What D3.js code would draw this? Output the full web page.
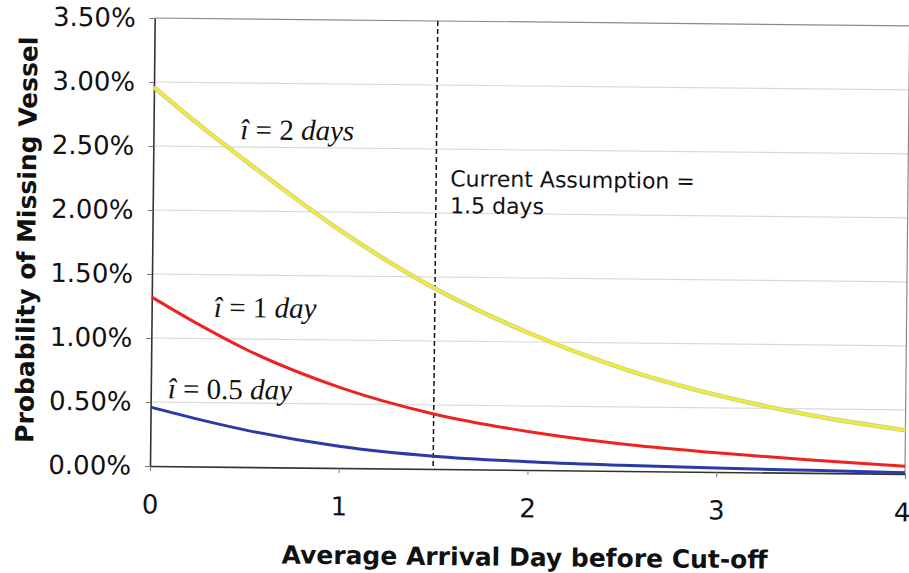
<!DOCTYPE html>
<html>
<head>
<meta charset="utf-8">
<script src="https://cdn.jsdelivr.net/npm/d3@7"></script>
<style>
  body { margin: 0; background: #fff; }
  svg { display: block; }
  .tick text { font-family: "DejaVu Sans", Verdana, sans-serif; font-size: 26px; fill: #111; }
</style>
</head>
<body>
<div id="chart"></div>
<script>
// arrival day before cut-off (x)
const days = [0, 0.25, 0.5, 1, 1.5, 2, 2.5, 3, 3.5, 4];
// probability of missing vessel, in percent
const pctTwoDays = [2.96, 2.66, 2.38, 1.85, 1.41, 1.07, 0.80, 0.60, 0.45, 0.34];
const pctOneDay = [1.32, 1.11, 0.92, 0.63, 0.43, 0.30, 0.21, 0.15, 0.10, 0.06];
const pctHalfDay = [0.46, 0.37, 0.29, 0.17, 0.10, 0.065, 0.045, 0.03, 0.02, 0.01];
const xTicks = [0, 1, 2, 3, 4];
const yTicks = [0, 0.5, 1, 1.5, 2, 2.5, 3, 3.5];
const currentAssumption = 1.5;

const width = 909, height = 573;
const margin = {top: 18, right: 4, bottom: 107, left: 150};

const svg = d3.select('#chart')
  .append('svg')
  .attr('width', width)
  .attr('height', height);

// the scan is tilted a little clockwise
const g = svg.append('g')
  .attr('transform', `rotate(0.6, ${margin.left}, ${height - margin.bottom})`);

const x = d3.scaleLinear().domain([0, 4]).range([margin.left, width - margin.right]);
const y = d3.scaleLinear().domain([0, 3.5]).range([height - margin.bottom, margin.top]);

// gridlines
g.append('g')
  .selectAll('line')
  .data(yTicks.filter(d => d > 0 && d < 3.5))
  .join('line')
  .attr('x1', x(0)).attr('x2', x(4))
  .attr('y1', d => y(d)).attr('y2', d => y(d))
  .attr('stroke', '#d9d9d9')
  .attr('stroke-width', 1.2);

// top and right border
g.append('path')
  .attr('d', `M${x(0)},${y(3.5)}H${x(4)}V${y(0)}`)
  .attr('fill', 'none')
  .attr('stroke', '#8a8a8a')
  .attr('stroke-width', 1.2);

// axes
const yAxis = g.append('g')
  .attr('transform', `translate(${x(0)},0)`)
  .call(d3.axisLeft(y).tickValues(yTicks).tickFormat(d => d.toFixed(2) + '%').tickSizeInner(5).tickSizeOuter(0).tickPadding(14));
const xAxis = g.append('g')
  .attr('transform', `translate(0,${y(0)})`)
  .call(d3.axisBottom(x).tickValues(xTicks).tickFormat(d3.format('d')).tickSizeInner(5).tickSizeOuter(0).tickPadding(24));
[yAxis, xAxis].forEach(a => {
  a.select('.domain').attr('stroke', '#333').attr('stroke-width', 1.6);
  a.selectAll('.tick line').attr('stroke', '#777');
});
// last label sits right at the picture edge
xAxis.selectAll('.tick text').filter(d => d === 4).attr('dx', -3);

// current assumption marker
g.append('line')
  .attr('x1', x(currentAssumption)).attr('x2', x(currentAssumption))
  .attr('y1', y(3.5)).attr('y2', y(0))
  .attr('stroke', '#111')
  .attr('stroke-width', 1.5)
  .attr('stroke-dasharray', '5,3');

// curves
const line = d3.line()
  .x((d, i) => x(days[i]))
  .y(d => y(d))
  .curve(d3.curveMonotoneX);

const series = [
  {values: pctHalfDay, color: '#2a3aa6'},
  {values: pctOneDay, color: '#ec2320'},
  {values: pctTwoDays, color: '#efec36'}
];
series.forEach(s => {
  if (s.color === '#efec36') {
    g.append('path')
      .attr('d', line(s.values))
      .attr('fill', 'none')
      .attr('stroke', '#c9c6a4')
      .attr('stroke-width', 4.5);
  }
  g.append('path')
    .attr('d', line(s.values))
    .attr('fill', 'none')
    .attr('stroke', s.color)
    .attr('stroke-width', 3);
});

// curve labels
const curveLabels = [
  {day: 0.46, pct: 2.56, value: '2', unit: 'days'},
  {day: 0.33, pct: 1.17, value: '1', unit: 'day'},
  {day: 0.09, pct: 0.53, value: '0.5', unit: 'day'}
];
curveLabels.forEach(l => {
  const t = g.append('text')
    .attr('x', x(l.day))
    .attr('y', y(l.pct))
    .attr('font-family', '"Liberation Serif", "Times New Roman", serif')
    .attr('font-size', 29)
    .attr('fill', '#111');
  t.append('tspan').attr('font-style', 'italic').text('î');
  t.append('tspan').text(' = ' + l.value + ' ');
  t.append('tspan').attr('font-style', 'italic').text(l.unit);
});

// annotation
const note = g.append('text')
  .attr('font-family', '"DejaVu Sans", Verdana, sans-serif')
  .attr('font-size', 22)
  .attr('fill', '#111');
note.append('tspan').attr('x', x(1.575)).attr('y', y(2.21)).text('Current Assumption =');
note.append('tspan').attr('x', x(1.575)).attr('y', y(2.0)).text('1.5 days');

// axis titles
g.append('text')
  .attr('x', (x(0) + x(4)) / 2 - 2)
  .attr('y', 562)
  .attr('text-anchor', 'middle')
  .attr('font-family', '"DejaVu Sans", Verdana, sans-serif')
  .attr('font-weight', 'bold')
  .attr('font-size', 25)
  .attr('fill', '#111')
  .text('Average Arrival Day before Cut-off');

g.append('text')
  .attr('transform', 'translate(33,241) rotate(-90)')
  .attr('text-anchor', 'middle')
  .attr('font-family', '"DejaVu Sans", Verdana, sans-serif')
  .attr('font-weight', 'bold')
  .attr('font-size', 25)
  .attr('fill', '#111')
  .text('Probability of Missing Vessel');
</script>
</body>
</html>
